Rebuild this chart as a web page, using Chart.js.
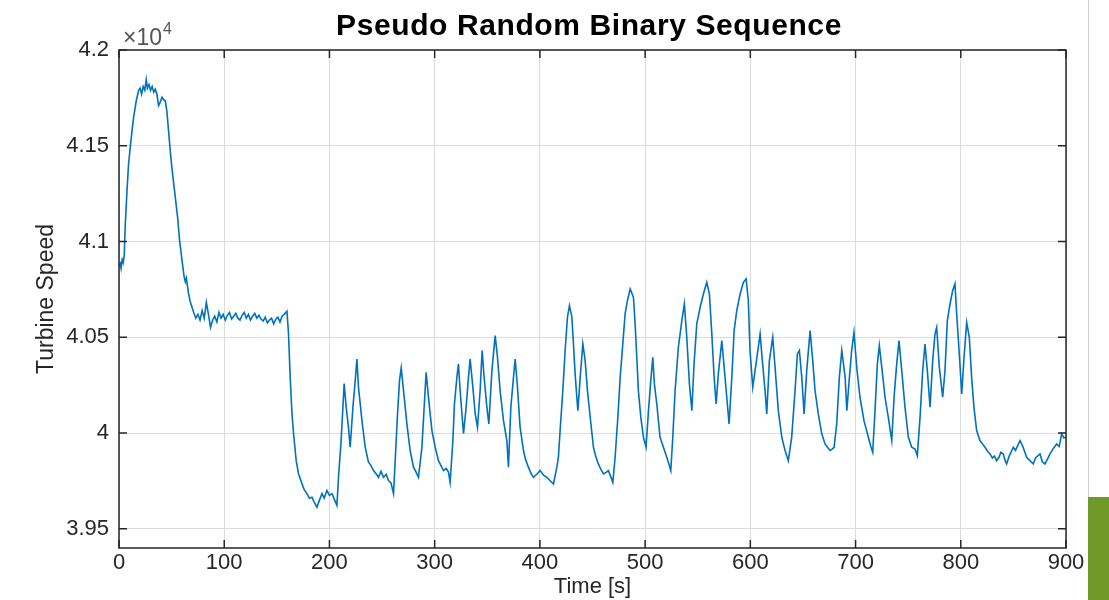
<!DOCTYPE html>
<html>
<head>
<meta charset="utf-8">
<script src="https://cdn.jsdelivr.net/npm/chart.js@4"></script>
<style>
  body { margin: 0; background: #fff; }
  #wrap { position: relative; width: 1109px; height: 600px; }
  #edge { position: absolute; left: 1088px; top: 0; width: 1px; height: 497px; background: #cdcdcd; }
  #tab { position: absolute; left: 1088px; top: 497px; width: 21px; height: 103px; background: #6f9a29; }
</style>
</head>
<body>
<div id="wrap">
  <canvas id="speedChart" width="1109" height="600"></canvas>
  <div id="edge"></div>
  <div id="tab"></div>
</div>
<script>
const chartTitle = 'Pseudo Random Binary Sequence';
const xTitle = 'Time [s]';
const yTitle = 'Turbine Speed';

const xTickValues = [0, 100, 200, 300, 400, 500, 600, 700, 800, 900];
const yTickValues = [39500, 40000, 40500, 41000, 41500, 42000];
const yTickLabels = ['3.95', '4', '4.05', '4.1', '4.15', '4.2'];

// time [s]
const times = [
  0, 1.2, 2, 3, 4, 5, 6, 7.6, 9.1, 10.7, 12.4, 13.9, 16.4, 18.6, 20, 21.5, 23, 24.5, 25.9, 27,
  28.5, 30, 31.5, 33, 34.5, 36, 37.6, 39, 40.9, 42.5, 44, 45.5, 47.1, 48.7, 50, 51.3, 53.5, 55.7, 57.6, 59.9,
  62, 63, 64, 66.1, 67.5, 69.4, 71, 73, 75, 77, 79, 81, 83, 85, 87, 89, 91, 93, 95, 97,
  99, 101, 103, 105, 107, 109, 111, 113, 115, 117, 119, 121, 123, 125, 127, 129, 131, 133, 135, 137,
  139, 141, 143, 145, 147, 149, 151, 153, 155, 157, 159.6, 161.1, 162.7, 164.4, 165.9, 168.4, 170.6, 173.9, 176, 178.6,
  181, 183.4, 185.5, 188.1, 190.5, 192.9, 195, 197.6, 200, 202.4, 205, 207.1, 208.6, 210.9, 212.8, 214, 215.9, 218.1, 219.7, 222.3,
  224.5, 226.1, 227.6, 230.9, 234, 237.1, 239.5, 241.9, 244, 246.6, 249, 251.4, 254, 256.1, 258.5, 260.9, 262.5, 264.7, 266.6, 268.2,
  270.4, 273.6, 276.7, 279.9, 282, 284.6, 287.9, 290, 291.9, 294.1, 297.4, 300.5, 303.6, 306, 308.4, 311, 313.1, 314.7, 317.3, 318.8,
  321.1, 322.6, 324.2, 325.9, 327.4, 329.9, 332.1, 333.7, 336.3, 338.5, 340.7, 343.2, 345.1, 347, 349.6, 351.5, 354.4, 357.5, 359.7, 362.2,
  365.4, 368.6, 370.1, 372.4, 374.9, 376.5, 378.7, 381.2, 384.4, 386.5, 389.1, 391.5, 393.9, 397, 400.2, 403.5, 406.6, 410, 412.9, 416.1,
  417.6, 419.2, 421.8, 424, 426.2, 428.1, 430.4, 431.9, 433.5, 435.1, 436.1, 438.3, 440.8, 443, 445.2, 447.8, 450.9, 453, 455.6, 458,
  460.4, 463, 465.1, 467.5, 469.3, 471.5, 474.1, 476.3, 478.8, 481, 483.2, 485.8, 488.9, 490.5, 492.1, 493.6, 495.9, 498.4, 500.9, 503.2,
  505.4, 507.3, 508.8, 511.1, 514.2, 517.4, 520.6, 522.5, 524.4, 526.3, 528.5, 531.6, 534.9, 537.3, 539.6, 542.1, 544.4, 546.5, 549.1, 552.3,
  555.4, 558.6, 561.1, 563.4, 565.6, 567.5, 569.6, 572.9, 575.1, 577.6, 579.8, 582.4, 584.6, 587.1, 590.3, 593.4, 596, 598.1, 599.7, 602.3,
  604.5, 606.7, 609.3, 611.4, 614, 615.6, 618.1, 621.3, 623.5, 626.6, 629.9, 633, 636.1, 639.3, 642.5, 644.7, 646.6, 648.9, 651.1, 653.6,
  656.8, 659.3, 661.5, 664.6, 667.9, 671, 673.5, 675.8, 677.5, 679.6, 682.1, 684.6, 686.9, 690.1, 691.7, 694, 696.3, 698.5, 701.1, 704.2,
  708, 712.2, 714.5, 716.3, 718.5, 720.7, 722.6, 724.9, 728, 731.1, 734.4, 736.6, 739.1, 741.3, 743.9, 747, 750.2, 753.4, 756.5, 758.7,
  761.3, 763.8, 766, 768.2, 770.8, 773.3, 775.5, 777.1, 779.6, 782.8, 785, 787.2, 789.8, 792.3, 794.5, 796.1, 798.6, 800.9, 803.1, 805.6,
  808.1, 810.3, 812.5, 815.1, 818.2, 820.5, 823, 825.5, 827.8, 830, 832, 834.1, 836.5, 838, 840.4, 842, 843.6, 846, 849.9, 852,
  856.3, 859, 862.6, 865, 868.9, 871, 875.3, 877.5, 880, 882.5, 884.8, 888, 891.1, 893.5, 895.9, 898, 900
];

// turbine speed
const speeds = [
  40870, 40885, 40860, 40905, 40890, 40930, 41093, 41266, 41406, 41492, 41579, 41648, 41735, 41788, 41800, 41770, 41810, 41790, 41845, 41800,
  41820, 41790, 41810, 41780, 41795, 41770, 41710, 41725, 41753, 41740, 41735, 41680, 41579, 41474, 41400, 41335, 41231, 41126, 41005, 40900,
  40813, 40790, 40810, 40728, 40690, 40657, 40630, 40600, 40620, 40590, 40640, 40600, 40683, 40620, 40552, 40590, 40610, 40580, 40630, 40600,
  40620, 40590, 40615, 40630, 40595, 40610, 40625, 40600, 40590, 40615, 40630, 40600, 40620, 40590, 40610, 40625, 40600, 40615, 40595, 40585,
  40605, 40575, 40590, 40600, 40570, 40595, 40605, 40580, 40610, 40620, 40636, 40519, 40291, 40101, 39997, 39856, 39788, 39736, 39705, 39684,
  39660, 39665, 39640, 39613, 39650, 39684, 39660, 39700, 39675, 39684, 39650, 39622, 39769, 39945, 40135, 40258, 40135, 40030, 39926, 40135,
  40274, 40387, 40239, 40065, 39926, 39848, 39830, 39804, 39790, 39769, 39800, 39769, 39785, 39752, 39740, 39684, 39856, 40101, 40274, 40340,
  40222, 40048, 39909, 39822, 39800, 39769, 39926, 40135, 40317, 40187, 40013, 39926, 39856, 39830, 39804, 39815, 39796, 39743, 39961, 40152,
  40291, 40361, 40222, 40101, 39997, 40135, 40291, 40387, 40239, 40101, 40030, 40222, 40431, 40291, 40135, 40048, 40326, 40509, 40396, 40222,
  40065, 39961, 39822, 40135, 40291, 40387, 40239, 40030, 39909, 39860, 39822, 39790, 39769, 39785, 39804, 39780, 39769, 39750, 39735, 39822,
  39874, 40013, 40222, 40431, 40605, 40665, 40605, 40465, 40309, 40187, 40117, 40291, 40465, 40378, 40222, 40083, 39926, 39880, 39839, 39810,
  39787, 39795, 39804, 39770, 39743, 39874, 40083, 40291, 40465, 40622, 40691, 40753, 40709, 40570, 40396, 40222, 40083, 39978, 39926, 40117,
  40274, 40396, 40257, 40152, 39978, 39926, 39874, 39840, 39804, 39978, 40222, 40448, 40587, 40674, 40500, 40257, 40117, 40361, 40570, 40657,
  40726, 40787, 40726, 40517, 40291, 40152, 40309, 40483, 40344, 40187, 40048, 40291, 40535, 40639, 40726, 40787, 40805, 40691, 40431, 40239,
  40326, 40413, 40517, 40378, 40222, 40100, 40378, 40500, 40344, 40117, 39978, 39909, 39856, 39978, 40222, 40413, 40431, 40291, 40100, 40326,
  40535, 40378, 40222, 40100, 39996, 39943, 39925, 39909, 39915, 39926, 40048, 40291, 40431, 40291, 40117, 40280, 40431, 40526, 40344, 40187,
  40065, 39978, 39930, 39900, 40117, 40361, 40457, 40344, 40187, 40083, 39961, 40187, 40361, 40483, 40326, 40135, 39978, 39926, 39917, 39882,
  40083, 40326, 40465, 40326, 40135, 40378, 40517, 40552, 40344, 40187, 40326, 40587, 40674, 40744, 40779, 40622, 40413, 40204, 40396, 40578,
  40500, 40291, 40135, 40013, 39961, 39945, 39926, 39905, 39891, 39870, 39880, 39856, 39875, 39900, 39891, 39860, 39839, 39880, 39926, 39910,
  39961, 39930, 39874, 39860, 39839, 39870, 39891, 39850, 39839, 39865, 39891, 39920, 39943, 39930, 39996, 39975, 39980
];

const frame = {
  id: 'frame',
  afterDatasetsDraw(chart) {
    const ctx = chart.ctx;
    const a = chart.chartArea;
    const x = chart.scales.x;
    const y = chart.scales.y;
    ctx.save();
    ctx.strokeStyle = '#262626';
    ctx.lineWidth = 1.5;
    ctx.strokeRect(a.left, a.top, a.right - a.left, a.bottom - a.top);
    ctx.beginPath();
    x.ticks.forEach(t => {
      const px = x.getPixelForValue(t.value);
      ctx.moveTo(px, a.bottom); ctx.lineTo(px, a.bottom - 8);
      ctx.moveTo(px, a.top); ctx.lineTo(px, a.top + 8);
    });
    y.ticks.forEach(t => {
      const py = y.getPixelForValue(t.value);
      ctx.moveTo(a.left, py); ctx.lineTo(a.left + 8, py);
      ctx.moveTo(a.right, py); ctx.lineTo(a.right - 8, py);
    });
    ctx.stroke();

    // exponent label
    ctx.fillStyle = '#555555';
    ctx.textBaseline = 'alphabetic';
    ctx.font = '23px "Liberation Sans", Arial, sans-serif';
    ctx.fillText('\u00d710', a.left + 4, a.top - 5);
    const w = ctx.measureText('\u00d710').width;
    ctx.font = '16px "Liberation Sans", Arial, sans-serif';
    ctx.fillText('4', a.left + 5 + w, a.top - 16);

    // title
    ctx.fillStyle = '#000';
    ctx.font = 'bold 30px "Liberation Sans", Arial, sans-serif';
    ctx.letterSpacing = '0.6px';
    ctx.textAlign = 'center';
    ctx.fillText(chartTitle, 589, 35);
    ctx.restore();
  }
};

const ctx = document.getElementById('speedChart').getContext('2d');
const speedChart = new Chart(ctx, {
  type: 'line',
  data: {
    datasets: [{
      label: yTitle,
      data: times.map((t, i) => ({x: t, y: speeds[i]})),
      borderColor: '#0072bd',
      borderWidth: 1.6,
      pointRadius: 0,
      tension: 0,
      fill: false
    }]
  },
  options: {
    responsive: false,
    animation: false,
    layout: { padding: { left: 0, top: 50, right: 43, bottom: 0 } },
    plugins: {
      legend: { display: false },
      title: { display: false },
      tooltip: { enabled: false }
    },
    scales: {
      x: {
        type: 'linear',
        min: 0,
        max: 900,
        afterBuildTicks: s => { s.ticks = xTickValues.map(v => ({value: v})); },
        afterFit: s => { s.height = 52; },
        grid: { color: '#dcdcdc', lineWidth: 1, drawTicks: false },
        border: { display: false },
        ticks: {
          padding: 2,
          color: '#262626',
          font: { family: '"Liberation Sans", Arial, sans-serif', size: 22 },
          maxRotation: 0
        },
        title: {
          display: true,
          text: xTitle,
          color: '#262626',
          font: { family: '"Liberation Sans", Arial, sans-serif', size: 22 },
          padding: { top: 0, bottom: 0 }
        }
      },
      y: {
        min: 39400,
        max: 42000,
        afterBuildTicks: s => { s.ticks = yTickValues.map(v => ({value: v})); },
        afterFit: s => { s.width = 119; },
        grid: { color: '#dcdcdc', lineWidth: 1, drawTicks: false },
        border: { display: false },
        ticks: {
          padding: 10,
          color: '#262626',
          font: { family: '"Liberation Sans", Arial, sans-serif', size: 22 },
          callback: v => yTickLabels[yTickValues.indexOf(v)]
        },
        title: {
          display: true,
          text: yTitle,
          color: '#262626',
          font: { family: '"Liberation Sans", Arial, sans-serif', size: 23 },
          padding: { top: 33, bottom: 0 }
        }
      }
    }
  },
  plugins: [frame]
});
</script>
</body>
</html>
